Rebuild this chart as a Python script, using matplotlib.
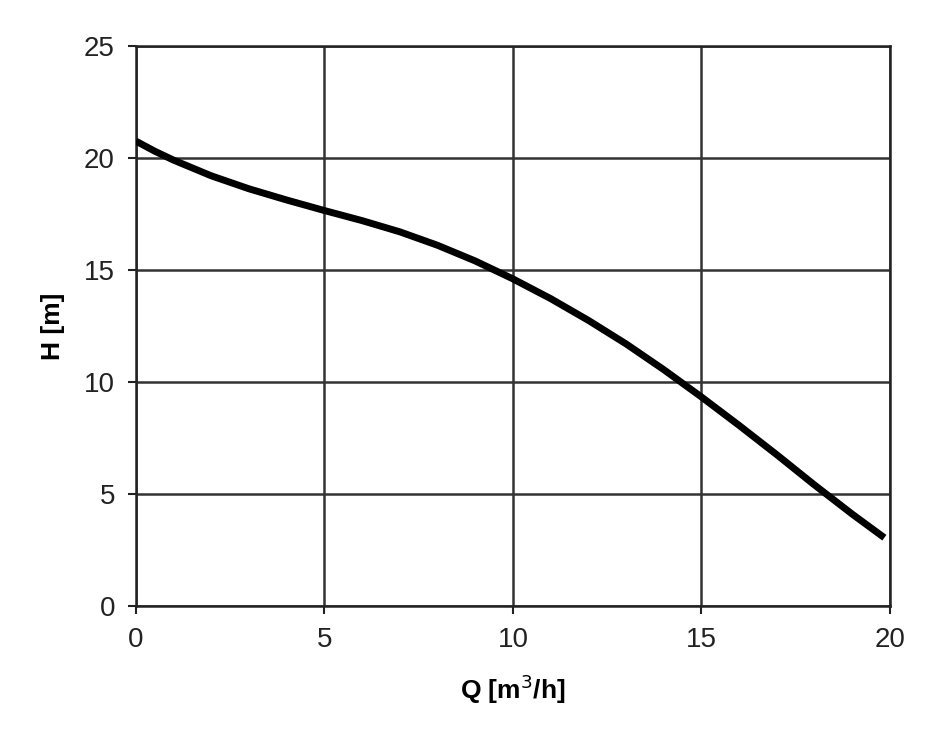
import matplotlib
matplotlib.use("Agg")
import matplotlib.pyplot as plt

# Pump curve (flow Q in m3/h, head H in m)
q_flow = [0, 0.5, 1, 2, 3, 4, 5, 6, 7, 8, 9, 10, 11, 12, 13, 14, 15, 16, 17, 18, 19, 19.85]
h_head = [20.75, 20.3, 19.9, 19.2, 18.62, 18.12, 17.65, 17.2, 16.7, 16.1, 15.4, 14.6,
          13.72, 12.75, 11.7, 10.55, 9.33, 8.06, 6.75, 5.4, 4.1, 3.05]

x_ticks = [0, 5, 10, 15, 20]
y_ticks = [0, 5, 10, 15, 20, 25]

plt.rcParams['font.family'] = ['Liberation Sans', 'DejaVu Sans']

fig = plt.figure(figsize=(9.3, 7.51), dpi=100)
ax = fig.add_axes([0.146, 0.193, 0.811, 0.746])

ax.plot(q_flow, h_head, color='black', linewidth=5, solid_capstyle='butt',
        solid_joinstyle='round', zorder=3)

ax.set_xlim(0, 20)
ax.set_ylim(0, 25)
ax.set_xticks(x_ticks)
ax.set_yticks(y_ticks)
ax.grid(True, color='#333333', linewidth=1.8)
for s in ax.spines.values():
    s.set_linewidth(1.8)
    s.set_color('#222222')
ax.tick_params(direction='out', length=6, width=1.5, labelsize=20, colors='#222222', pad=9)

ax.set_xlabel('Q [m$^3$/h]', fontsize=19, fontweight='bold', labelpad=14)
ax.set_ylabel('H [m]', fontsize=19, fontweight='bold', labelpad=14)

fig.savefig('out.png', dpi=100)
